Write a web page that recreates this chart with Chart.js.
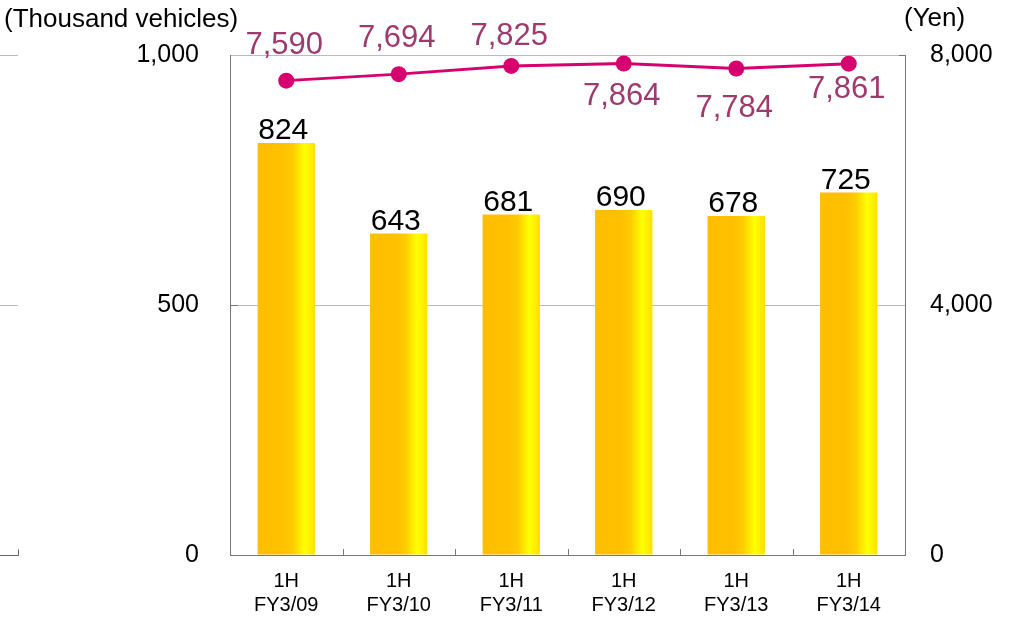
<!DOCTYPE html>
<html>
<head>
<meta charset="utf-8">
<script src="https://cdn.jsdelivr.net/npm/chart.js@4.4.1/dist/chart.umd.min.js"></script>
<style>
  html, body { margin: 0; padding: 0; background: #fff; }
  #wrap { width: 1009px; height: 621px; position: relative; }
</style>
</head>
<body>
<div id="wrap"><canvas id="salesChart" width="1009" height="621"></canvas></div>
<script>
const categories = [['1H', 'FY3/09'], ['1H', 'FY3/10'], ['1H', 'FY3/11'], ['1H', 'FY3/12'], ['1H', 'FY3/13'], ['1H', 'FY3/14']];
const vehicles = [824, 643, 681, 690, 678, 725];
const unitPrice = [7590, 7694, 7825, 7864, 7784, 7861];
const priceLabelShift = [-35, -36, -29, 33, 40, 26];
const leftTicks = [0, 500, 1000];
const rightTicks = [0, 4000, 8000];

const FONT = "'Liberation Sans', Arial, sans-serif";
const fmt = v => v.toLocaleString('en-US');

// bar gradient + labels + the little extra marks
const decorPlugin = {
  id: 'decor',
  beforeDatasetsDraw(chart) {
    const ctx = chart.ctx;
    chart.getDatasetMeta(1).data.forEach(bar => {
      const x = bar.x, width = bar.width;
      if (!isFinite(x) || !isFinite(width)) return;
      const g = ctx.createLinearGradient(x - width / 2, 0, x + width / 2, 0);
      g.addColorStop(0, '#FFBF00');
      g.addColorStop(0.45, '#FFC000');
      g.addColorStop(0.62, '#FFCC00');
      g.addColorStop(0.82, '#FFFF00');
      g.addColorStop(1, '#FFE000');
      // options are shared between bars, so give each its own copy
      bar.options = Object.assign({}, bar.options, { backgroundColor: g });
    });
  },
  afterDraw(chart) {
    const ctx = chart.ctx;
    const xs = chart.scales.x, yl = chart.scales.y, area = chart.chartArea;
    ctx.save();

    // category tick marks on the bottom axis (pointing up)
    ctx.strokeStyle = '#777';
    ctx.lineWidth = 1;
    for (let i = 1; i < categories.length; i++) {
      const x = Math.round((xs.getPixelForValue(i - 1) + xs.getPixelForValue(i)) / 2) + 0.5;
      ctx.beginPath();
      ctx.moveTo(x, area.bottom);
      ctx.lineTo(x, area.bottom - 6);
      ctx.stroke();
    }
    // inner tick on left axis
    const y5 = Math.round(yl.getPixelForValue(500)) + 0.5;
    ctx.beginPath();
    ctx.moveTo(area.left, y5);
    ctx.lineTo(area.left + 8, y5);
    ctx.stroke();
    // right top corner
    const yt = Math.round(yl.getPixelForValue(1000)) + 0.5;
    ctx.beginPath();
    ctx.moveTo(area.right - 6, yt);
    ctx.lineTo(area.right, yt);
    ctx.stroke();

    // stray marks at far left
    ctx.strokeStyle = '#bbb';
    [1000, 500].forEach(v => {
      const y = Math.round(yl.getPixelForValue(v)) + 0.5;
      ctx.beginPath();
      ctx.moveTo(0, y);
      ctx.lineTo(18, y);
      ctx.stroke();
    });
    ctx.strokeStyle = '#666';
    const y0 = Math.round(yl.getPixelForValue(0)) + 0.5;
    ctx.beginPath();
    ctx.moveTo(0, y0);
    ctx.lineTo(18.5, y0);
    ctx.lineTo(18.5, y0 - 6);
    ctx.stroke();

    // bar labels
    ctx.fillStyle = '#000';
    ctx.font = '30px ' + FONT;
    ctx.textAlign = 'center';
    ctx.textBaseline = 'bottom';
    chart.getDatasetMeta(1).data.forEach((bar, i) => {
      ctx.fillText(fmt(vehicles[i]), bar.x - 3, bar.y + 3);
    });

    // line labels
    ctx.fillStyle = '#9E3A6E';
    ctx.font = '31px ' + FONT;
    ctx.textBaseline = 'middle';
    chart.getDatasetMeta(0).data.forEach((pt, i) => {
      ctx.fillText(fmt(unitPrice[i]), pt.x - 2, pt.y + priceLabelShift[i]);
    });

    // axis titles
    ctx.fillStyle = '#000';
    ctx.font = '26px ' + FONT;
    ctx.textAlign = 'left';
    ctx.fillText('(Thousand vehicles)', 4, 20);
    ctx.fillText('(Yen)', 904, 19);
    ctx.restore();
  }
};

const ctx = document.getElementById('salesChart').getContext('2d');
new Chart(ctx, {
  data: {
    labels: categories,
    datasets: [
      {
        type: 'line',
        label: 'Unit price',
        data: unitPrice,
        yAxisID: 'y2',
        borderColor: '#D6006F',
        backgroundColor: '#D6006F',
        borderWidth: 3,
        pointRadius: 8,
        pointHoverRadius: 8,
        pointBackgroundColor: '#D6006F',
        pointBorderWidth: 0,
        tension: 0,
        order: 0
      },
      {
        type: 'bar',
        label: 'Vehicles',
        data: vehicles,
        yAxisID: 'y',
        backgroundColor: '#FFC000',
        categoryPercentage: 1,
        barPercentage: 0.51,
        order: 1
      }
    ]
  },
  options: {
    responsive: false,
    animation: false,
    events: [],
    layout: { padding: { top: 55, left: 0, right: 0, bottom: 0 } },
    plugins: {
      legend: { display: false },
      title: { display: false },
      tooltip: { enabled: false }
    },
    scales: {
      x: {
        grid: { display: false, drawTicks: false },
        border: { color: '#777', width: 1 },
        ticks: {
          color: '#000',
          font: { family: FONT, size: 20 },
          padding: 14,
          maxRotation: 0,
          autoSkip: false
        },
        afterFit: s => { s.height = 66; }
      },
      y: {
        position: 'left',
        min: 0,
        max: 1000,
        afterBuildTicks: s => { s.ticks = leftTicks.map(v => ({ value: v })); },
        grid: {
          drawTicks: false,
          color: c => (c.tick && c.tick.value === 0) ? 'rgba(0,0,0,0)' : '#BBBBBB',
          lineWidth: 1
        },
        border: { color: '#777', width: 1 },
        ticks: {
          color: '#000',
          font: { family: FONT, size: 25 },
          padding: 31,
          callback: v => fmt(v)
        },
        afterFit: s => { s.width = 230; }
      },
      y2: {
        position: 'right',
        min: 0,
        max: 8000,
        afterBuildTicks: s => { s.ticks = rightTicks.map(v => ({ value: v })); },
        grid: { display: false, drawTicks: false },
        border: { color: '#777', width: 1 },
        ticks: {
          color: '#000',
          font: { family: FONT, size: 25 },
          padding: 25,
          callback: v => fmt(v)
        },
        afterFit: s => { s.width = 104; }
      }
    }
  },
  plugins: [decorPlugin]
});
</script>
</body>
</html>
